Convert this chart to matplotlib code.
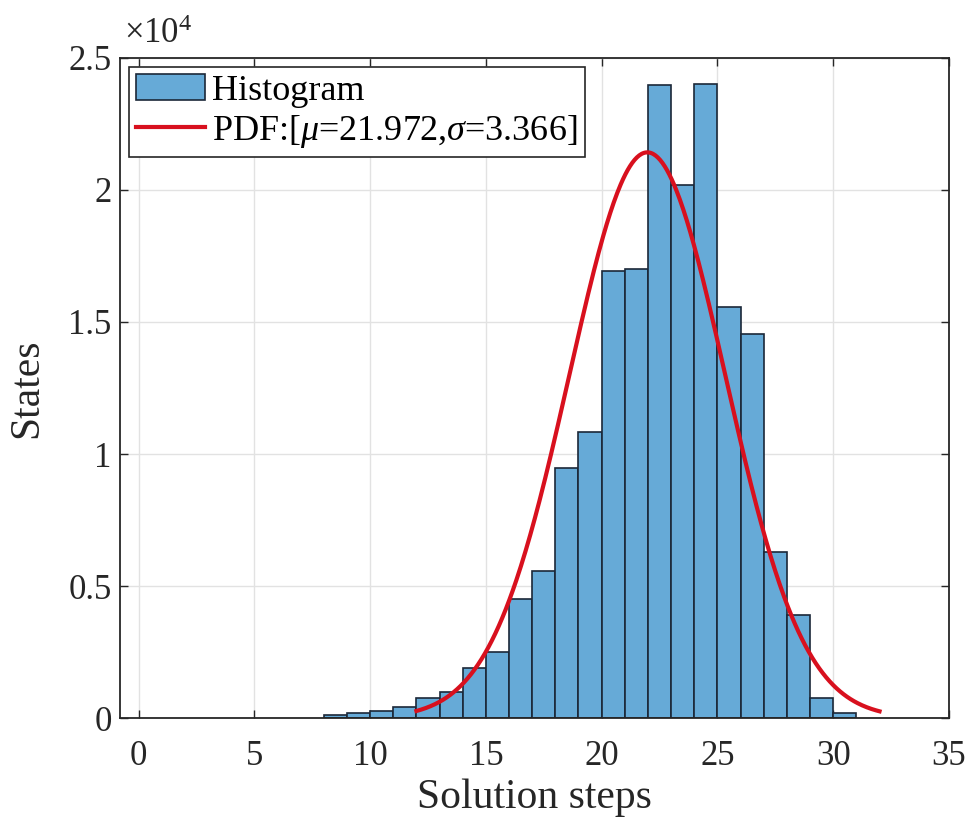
import numpy as np
import matplotlib
matplotlib.use('Agg')
import matplotlib.pyplot as plt
from matplotlib.patches import Patch
from matplotlib.lines import Line2D

# ---- data ----
bin_left = list(range(8, 31))
counts = [100, 200, 280, 400, 750, 980, 1890, 2490, 4490, 5550, 9470, 10830,
          16940, 17000, 23960, 20200, 24000, 15550, 14530, 6300, 3920, 750, 190]
mu = 21.972
sigma = 3.366
pdf_range = [12, 32]
x_ticks = [0, 5, 10, 15, 20, 25, 30, 35]
y_ticks = [0, 5000, 10000, 15000, 20000, 25000]

plt.rcParams['font.family'] = ['Liberation Serif', 'DejaVu Serif']
plt.rcParams['mathtext.fontset'] = 'custom'
plt.rcParams['mathtext.rm'] = 'Liberation Serif'
plt.rcParams['mathtext.it'] = 'Liberation Serif:italic'

fig = plt.figure(figsize=(9.74, 8.30), dpi=100)
ax = fig.add_axes([120/974, 1-718/830, (949-120)/974, (718-58)/830])

bar_color = (0.40, 0.668, 0.845)
edge_color = '#1b2838'
ax.bar(bin_left, counts, width=1.0, align='edge', color=bar_color,
       edgecolor=edge_color, linewidth=1.2, zorder=2)

total = float(np.sum(counts))
xs = np.linspace(pdf_range[0], pdf_range[1], 400)
ys = total * np.exp(-0.5 * ((xs - mu) / sigma) ** 2) / (sigma * np.sqrt(2 * np.pi))
red = '#d8101e'
ax.plot(xs, ys, color=red, linewidth=3.0, zorder=3)

ax.set_xlim(-0.8, 35)
ax.set_ylim(0, 25000)
ax.set_xticks(x_ticks)
ax.set_yticks(y_ticks)
ax.set_yticklabels(['%g' % (v / 1e4) for v in y_ticks])
ax.tick_params(direction='in', length=6, width=1, top=True, right=True,
               labelsize=25, colors='#262626')
ax.tick_params(axis='x', pad=16)
ax.tick_params(axis='y', pad=6)
for s in ax.spines.values():
    s.set_color('#262626')
    s.set_linewidth(1.3)
ax.grid(True, color='#e2e2e2', linewidth=1.0, zorder=0)
ax.set_axisbelow(True)

ax.set_xlabel('Solution steps', fontsize=30, color='#262626', labelpad=4)
ax.set_ylabel('States', fontsize=30, color='#262626', labelpad=16)

ax.text(0.005, 1.01, r'$\times 10^{4}$', transform=ax.transAxes,
        fontsize=25, color='#262626', ha='left', va='bottom')

handles = [Patch(facecolor=bar_color, edgecolor=edge_color, linewidth=1.2),
           Line2D([0], [0], color=red, linewidth=3.0)]
labels = ['Histogram', r'PDF:[$\mu$=21.972,$\sigma$=3.366]']
leg = ax.legend(handles, labels, loc='upper left', fontsize=26,
                frameon=True, fancybox=False, framealpha=1,
                edgecolor='#262626', borderaxespad=0.25, handlelength=1.9,
                handletextpad=0.2, borderpad=0.2, labelspacing=0.15)
leg.get_frame().set_linewidth(1.2)

fig.savefig('out.png', dpi=100)
